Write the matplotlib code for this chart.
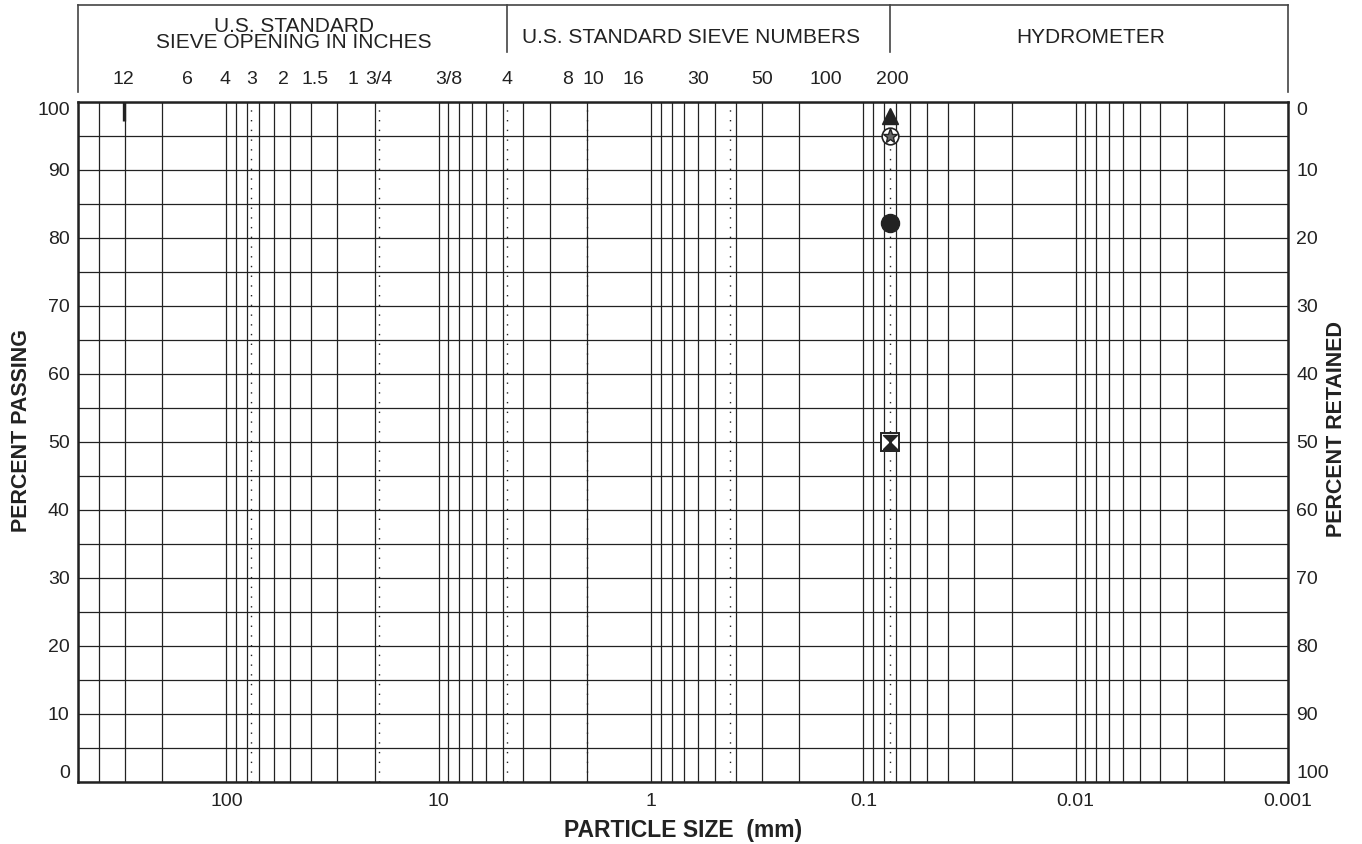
import numpy as np
import matplotlib
matplotlib.use("Agg")
import matplotlib.pyplot as plt
from matplotlib import font_manager
from matplotlib.ticker import LogLocator, MultipleLocator, NullFormatter
from matplotlib.transforms import blended_transform_factory, offset_copy
from matplotlib.path import Path

plt.rcParams['font.family'] = ['Liberation Sans', 'DejaVu Sans']

# Sieve openings printed along the top (sizes in mm)
inch_labels = ['12', '6', '4', '3', '2', '1.5', '1', '3/4', '3/8']
inch_sizes = [304.8, 152.4, 101.6, 76.2, 50.8, 38.1, 25.4, 19.05, 9.525]
number_labels = ['4', '8', '10', '16', '30', '50', '100', '200']
number_sizes = [4.75, 2.36, 2.0, 1.18, 0.6, 0.3, 0.15, 0.075]

# Sizes marked with dotted guide lines (3", 3/4", #4, #10, #40, #200)
guide_sizes = [76.2, 19.05, 4.75, 2.0, 0.425, 0.075]

# Particle size axis
size_ticks = [100, 10, 1, 0.1, 0.01, 0.001]
size_tick_labels = ['100', '10', '1', '0.1', '0.01', '0.001']
size_max = 500
size_min = 0.001

# Test results on the No. 200 sieve
sample_size = [0.075, 0.075, 0.075, 0.075]
sample_passing = [98, 95, 82.2, 50]

ink = '#222222'

# condensed bold for the axis titles when available
installed = {f.name for f in font_manager.fontManager.ttflist}
if 'Liberation Sans Narrow' in installed:
    title_family = ['Liberation Sans Narrow', 'Liberation Sans']
    side_size, bottom_size = 17.5, 19
else:
    title_family = ['Liberation Sans', 'DejaVu Sans']
    side_size, bottom_size = 15.5, 16.5

fig = plt.figure(figsize=(13.62, 8.44), dpi=100)
ax = fig.add_axes([78 / 1362, 1 - 782 / 844, 1210 / 1362, 680 / 844])

ax.set_xscale('log')
ax.set_xlim(size_max, size_min)
ax.set_ylim(0, 100)

# log grid (1..9 per decade) and 5 % horizontal grid
ax.xaxis.set_major_locator(LogLocator(base=10, subs=[1.0]))
ax.xaxis.set_minor_locator(LogLocator(base=10, subs=np.arange(2, 10)))
ax.xaxis.set_minor_formatter(NullFormatter())
ax.set_xticks(size_ticks)
ax.set_xticklabels(size_tick_labels)
ax.yaxis.set_minor_locator(MultipleLocator(5))
ax.set_yticks(range(0, 101, 10))
ax.set_yticklabels([str(v) for v in range(0, 101, 10)])
ax.grid(True, which='both', color=ink, lw=0.9)
ax.tick_params(which='both', length=0, labelsize=14, colors=ink)
ax.tick_params(axis='x', pad=8)
ax.tick_params(axis='y', pad=6)
ylabels = ax.get_yticklabels()
ylabels[0].set_va('bottom')
ylabels[-1].set_va('top')
for sp in ax.spines.values():
    sp.set_linewidth(1.8)
    sp.set_color(ink)

for s in guide_sizes:
    ax.axvline(s, ls=(0, (1, 6)), lw=1.0, color=ink)

# right-hand percent retained scale
ax2 = ax.twinx()
ax2.set_ylim(100, 0)
ax2.set_yticks(range(0, 101, 10))
ax2.set_yticklabels([str(v) for v in range(0, 101, 10)])
ax2.tick_params(length=0, labelsize=14, colors=ink, pad=6)
rlabels = ax2.get_yticklabels()
rlabels[0].set_va('top')
rlabels[-1].set_va('bottom')
for sp in ax2.spines.values():
    sp.set_visible(False)

# 12 inch mark
ax.plot([304.8, 304.8], [100, 97.2], lw=2.4, color=ink, solid_capstyle='butt')

# data markers
ax.plot(sample_size[0], sample_passing[0], marker='^', ms=12, color=ink, ls='none', zorder=5)
ax.plot(sample_size[1], sample_passing[1], marker='o', ms=12, mfc='white', mec=ink, mew=1.2, ls='none', zorder=5)
ax.plot(sample_size[1], sample_passing[1], marker='*', ms=11, mfc='#666666', mec=ink, mew=1.0, ls='none', zorder=6)
ax.plot(sample_size[2], sample_passing[2], marker='o', ms=13, color=ink, ls='none', zorder=5)
hourglass = Path([(-1, 1), (1, 1), (0, 0), (-1, 1), (-1, -1), (1, -1), (0, 0), (-1, -1)],
                 [Path.MOVETO, Path.LINETO, Path.LINETO, Path.CLOSEPOLY,
                  Path.MOVETO, Path.LINETO, Path.LINETO, Path.CLOSEPOLY])
ax.plot(sample_size[3], sample_passing[3], marker='s', ms=13, mfc='white', mec=ink, mew=1.4, ls='none', zorder=5)
ax.plot(sample_size[3], sample_passing[3], marker=hourglass, ms=10, color=ink, ls='none', zorder=6)

# header boxes above the plot
trans = blended_transform_factory(ax.transData, ax.transAxes)
hdr_top = 1.1426
hdr_kw = dict(transform=trans, clip_on=False, color='#444444', lw=1.2)
ax.plot([size_max, size_min], [hdr_top, hdr_top], **hdr_kw)
ax.plot([size_max, size_max], [1.0147, hdr_top], **hdr_kw)
ax.plot([size_min, size_min], [1.0147, hdr_top], **hdr_kw)
ax.plot([4.75, 4.75], [1.0735, hdr_top], **hdr_kw)
ax.plot([0.075, 0.075], [1.0735, hdr_top], **hdr_kw)

# sieve labels, a few nudged sideways (pixels) so neighbours don't collide
nudge = {'2': -5, '3/8': 6, '8': -4, '10': 6, '16': -2, '200': 2}
for lbl, s in zip(inch_labels + number_labels, inch_sizes + number_sizes):
    tr = offset_copy(trans, fig=fig, x=nudge.get(lbl, 0), y=0, units='dots')
    ax.text(s, 1.026, lbl, transform=tr, ha='center', va='baseline',
            fontsize=14, color=ink)

ax.text(0.1781, 1.1029, 'U.S. STANDARD', transform=ax.transAxes,
        ha='center', va='baseline', fontsize=15, color=ink)
ax.text(0.1781, 1.0787, 'SIEVE OPENING IN INCHES', transform=ax.transAxes,
        ha='center', va='baseline', fontsize=15, color=ink)
ax.text(0.507, 1.0875, 'U.S. STANDARD SIEVE NUMBERS', transform=ax.transAxes,
        ha='center', va='baseline', fontsize=15, color=ink)
ax.text(0.837, 1.0875, 'HYDROMETER', transform=ax.transAxes,
        ha='center', va='baseline', fontsize=15, color=ink)

# axis titles
fig.text(22 / 1362, 1 - 430 / 844, 'PERCENT PASSING', rotation=90, ha='center', va='center',
         color=ink, family=title_family, fontsize=side_size, fontweight='bold')
fig.text(1337 / 1362, 1 - 429 / 844, 'PERCENT RETAINED', rotation=90, ha='center', va='center',
         color=ink, family=title_family, fontsize=side_size, fontweight='bold')
fig.text(683 / 1362, 1 - 831 / 844, 'PARTICLE SIZE  (mm)', ha='center', va='center',
         color=ink, family=title_family, fontsize=bottom_size, fontweight='bold')

fig.savefig('out.png', dpi=100)
